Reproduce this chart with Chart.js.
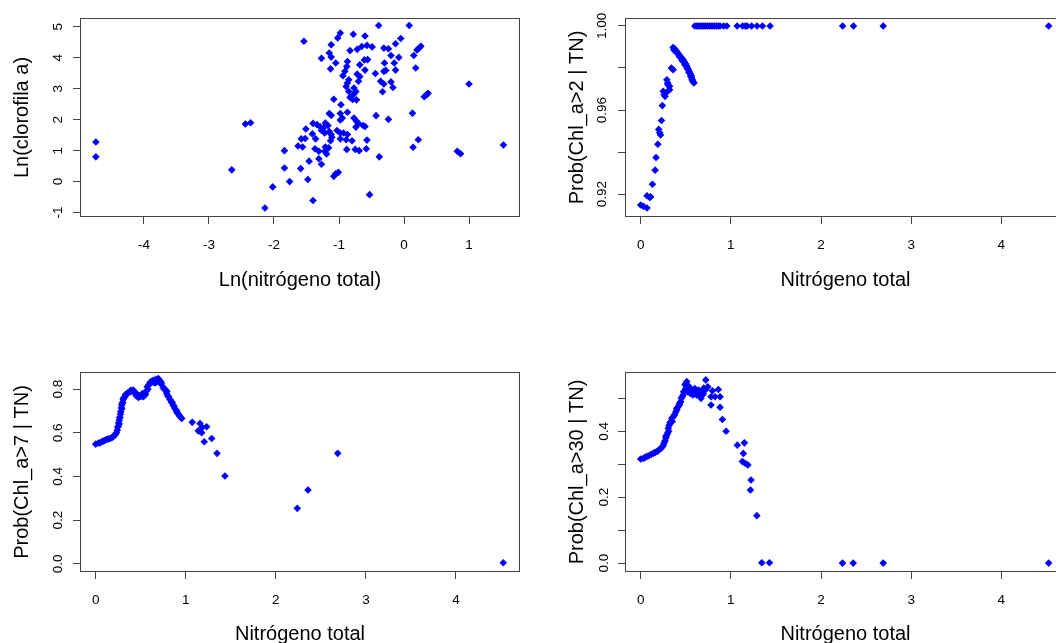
<!DOCTYPE html>
<html>
<head>
<meta charset="utf-8">
<title>Clorofila a vs nitrógeno total</title>
<script src="https://cdn.jsdelivr.net/npm/chart.js@4.4.0/dist/chart.umd.min.js"></script>
<style>
  html, body { margin: 0; padding: 0; background: #fff; overflow: hidden; width: 1056px; height: 643px; position: relative; }
  canvas { position: absolute; }
</style>
</head>
<body>
<canvas id="p1" width="530" height="300" style="left:0px;top:0px"></canvas>
<canvas id="p2" width="540" height="300" style="left:540px;top:0px"></canvas>
<canvas id="p3" width="530" height="320" style="left:0px;top:340px"></canvas>
<canvas id="p4" width="540" height="320" style="left:540px;top:340px"></canvas>
<script>
// panel 1: Ln(nitrógeno total) vs Ln(clorofila a)
var p1X = [-4.74,-4.74,-2.65,-2.44,-2.36,-2.14,-2.02,-1.84,-1.84,-1.76,-1.63,-1.59,-1.58,-1.56,-1.54,-1.52,-1.51,-1.48,-1.46,-1.41,
  -1.40,-1.40,-1.37,-1.36,-1.34,-1.31,-1.31,-1.29,-1.27,-1.27,-1.27,-1.24,-1.22,-1.21,-1.21,-1.22,-1.19,-1.17,-1.16,-1.15,
  -1.15,-1.15,-1.13,-1.13,-1.12,-1.12,-1.12,-1.12,-1.11,-1.08,-1.08,-1.05,-1.05,-1.03,-1.02,-1.01,-0.98,-0.98,-0.98,-0.98,
  -0.98,-0.97,-0.95,-0.94,-0.93,-0.91,-0.89,-0.89,-0.88,-0.88,-0.87,-0.87,-0.87,-0.87,-0.85,-0.85,-0.83,-0.83,-0.80,-0.79,
  -0.78,-0.77,-0.77,-0.77,-0.75,-0.74,-0.74,-0.73,-0.73,-0.72,-0.72,-0.70,-0.70,-0.69,-0.68,-0.68,-0.65,-0.63,-0.61,-0.60,
  -0.60,-0.60,-0.58,-0.57,-0.57,-0.56,-0.53,-0.49,-0.44,-0.43,-0.39,-0.38,-0.36,-0.33,-0.31,-0.31,-0.31,-0.30,-0.28,-0.24,
  -0.24,-0.20,-0.20,-0.17,-0.15,-0.13,-0.13,-0.08,-0.05,0.08,0.13,0.14,0.15,0.18,0.20,0.22,0.23,0.26,0.31,0.35,
  0.37,0.82,0.87,1.00,1.53];
var p1Y = [1.28,0.80,0.38,1.86,1.90,-0.85,-0.17,1.00,0.44,0.00,1.15,0.42,1.38,1.12,4.53,1.39,1.70,0.07,0.66,1.54,
  1.88,-0.61,1.06,1.38,1.84,0.98,0.74,1.77,1.65,3.98,0.56,1.73,1.57,1.89,1.12,0.98,0.89,1.81,1.09,1.62,
  2.20,4.15,1.32,3.64,1.52,2.14,4.02,4.42,1.43,2.66,0.17,0.25,3.83,1.65,4.64,0.30,4.80,1.57,1.38,2.20,
  1.99,2.48,2.05,3.42,1.57,3.56,1.35,3.07,3.72,1.04,3.88,3.18,2.24,1.52,3.29,2.91,2.72,4.23,1.32,2.65,
  4.76,3.02,2.83,2.05,1.04,2.91,1.76,2.64,1.95,4.27,3.47,3.24,1.88,1.00,3.77,3.39,4.36,1.81,3.93,4.70,
  3.60,1.78,1.06,4.40,1.34,3.94,-0.42,4.35,3.49,2.13,5.04,0.80,3.24,2.90,4.31,3.15,3.56,3.83,3.59,4.29,
  2.01,4.07,3.22,3.04,3.83,3.60,4.45,4.01,4.62,5.04,2.21,1.11,4.07,3.67,4.25,1.35,4.31,4.37,2.74,2.81,
  2.85,0.98,0.90,3.15,1.18];

// panel 2: Prob(Chl_a>2 | TN)
var p2X = [0.00,0.03,0.07,0.07,0.10,0.11,0.13,0.16,0.17,0.19,0.20,0.21,0.22,0.23,0.24,0.25,0.26,0.27,0.29,0.30,
  0.30,0.30,0.32,0.32,0.34,0.36,
  0.36,0.375,0.385,0.40,0.41,0.425,0.44,0.455,0.47,0.485,0.50,0.51,0.52,0.53,0.54,0.55,0.56,0.565,0.57,0.58,0.59,
  0.37,0.395,0.43,0.46,0.49,0.515,0.535,0.555,0.575,
  0.60,0.62,0.64,0.66,0.68,0.70,0.72,0.74,0.76,0.78,0.80,0.82,0.84,0.86,0.88,0.92,0.955,1.07,1.13,1.16,1.18,
  1.23,1.29,1.35,1.435,2.24,2.36,2.69,4.525];
var p2Y = [0.9148,0.9142,0.9134,0.9192,0.9184,0.9187,0.9247,0.9314,0.9374,0.9437,0.9508,0.9492,0.9481,0.9550,0.9621,0.9689,0.9673,0.9665,0.9744,0.9729,
  0.9721,0.9689,0.9713,0.9697,0.9800,0.9792,
  0.9897,0.9892,0.9886,0.9878,0.9871,0.9863,0.9855,0.9847,0.9839,0.9829,0.9819,0.9810,0.9800,0.9790,0.9781,0.9772,0.9763,0.9753,0.9744,0.9736,0.9729,
  0.9885,0.9874,0.9853,0.9835,0.9815,0.9797,0.9778,0.9760,0.9742,
  1,1,1,1,1,1,1,1,1,1,1,1,1,1,1,1,1,1,1,1,1,
  1,1,1,1,1,1,1,1];

// panel 3: Prob(Chl_a>7 | TN)
var p3X = [0.000,0.048,0.084,0.122,0.159,0.195,0.222,0.240,0.251,0.262,0.278,0.289,0.306,0.325,0.344,0.381,0.417,0.444,0.473,0.503,
  0.528,0.555,0.573,0.603,0.639,0.666,0.695,0.725,0.750,0.788,0.825,0.861,0.899,0.928,0.955,
  0.26,0.27,0.29,0.30,0.35,0.40,0.45,0.48,0.52,0.58,0.62,0.68,0.71,0.77,0.80,0.84,0.88,0.91,
  0.03,0.07,0.10,0.14,0.18,0.21,0.23,0.245,0.255,0.265,0.275,0.285,0.295,0.31,0.33,0.36,0.39,0.42,0.46,0.49,
  0.51,0.54,0.56,0.59,0.615,0.65,0.67,0.70,0.73,0.76,0.79,0.81,0.85,0.87,0.90,0.935,
  1.072,1.158,1.183,1.139,1.177,1.232,1.205,1.288,1.347,1.435,2.238,2.357,2.687,4.525];
var p3Y = [0.548,0.554,0.562,0.570,0.574,0.582,0.594,0.612,0.631,0.658,0.696,0.727,0.753,0.765,0.777,0.788,0.796,0.783,0.762,0.768,
  0.765,0.777,0.811,0.829,0.841,0.829,0.849,0.834,0.808,0.781,0.753,0.727,0.701,0.681,0.666,
  0.640,0.670,0.710,0.740,0.780,0.790,0.770,0.770,0.780,0.800,0.830,0.840,0.830,0.800,0.770,0.740,0.710,0.690,
  0.553,0.560,0.565,0.572,0.578,0.588,0.600,0.625,0.645,0.670,0.685,0.715,0.735,0.760,0.775,0.785,0.795,0.790,0.775,0.765,
  0.775,0.770,0.790,0.820,0.835,0.830,0.845,0.835,0.825,0.800,0.790,0.765,0.740,0.720,0.695,0.675,
  0.648,0.643,0.625,0.609,0.600,0.628,0.559,0.574,0.506,0.402,0.254,0.338,0.506,0.005];

// panel 4: Prob(Chl_a>30 | TN)
var p4X = [0.000,0.048,0.092,0.140,0.184,0.225,0.251,0.270,0.289,0.306,0.325,0.362,0.389,0.417,0.444,0.462,0.484,0.492,0.511,0.536,
  0.566,0.603,0.639,0.669,0.695,0.714,0.722,0.699,0.744,0.780,0.795,0.825,0.861,0.880,0.780,0.880,0.906,0.947,
  0.50,0.52,0.55,0.58,0.62,0.60,0.47,0.43,0.40,0.35,0.31,0.28,
  0.03,0.07,0.115,0.16,0.20,0.24,0.26,0.28,0.30,0.315,0.335,0.345,0.375,0.40,0.43,0.45,0.475,0.50,0.52,0.55,
  0.57,0.59,0.64,0.66,0.68,
  1.072,1.150,1.139,1.128,1.158,1.188,1.224,1.217,1.288,1.343,1.428,2.238,2.357,2.690,4.525];
var p4Y = [0.316,0.321,0.326,0.333,0.339,0.348,0.358,0.371,0.389,0.409,0.426,0.444,0.459,0.475,0.490,0.505,0.520,0.541,0.551,0.535,
  0.525,0.520,0.515,0.500,0.513,0.525,0.556,0.531,0.535,0.505,0.523,0.505,0.527,0.505,0.480,0.473,0.436,0.400,
  0.530,0.520,0.515,0.510,0.510,0.530,0.510,0.480,0.470,0.430,0.400,0.380,
  0.318,0.324,0.330,0.336,0.343,0.353,0.365,0.385,0.395,0.418,0.430,0.440,0.450,0.465,0.485,0.500,0.520,0.545,0.540,0.530,
  0.520,0.515,0.525,0.520,0.510,
  0.358,0.365,0.333,0.308,0.303,0.298,0.252,0.222,0.144,0.001,0.001,0.000,0.000,0.000,0.000];

// ticks
var p1XTicks = [-4, -3, -2, -1, 0, 1];
var p1YTicks = [-1, 0, 1, 2, 3, 4, 5];
var tnTicks = [0, 1, 2, 3, 4];
var p2YTicks = [0.92, 0.94, 0.96, 0.98, 1.00];
var p2YLabels = ['0.92', '', '0.96', '', '1.00'];
var p3YTicks = [0, 0.2, 0.4, 0.6, 0.8];
var p3YLabels = ['0.0', '0.2', '0.4', '0.6', '0.8'];
var p4YTicks = [0, 0.1, 0.2, 0.3, 0.4, 0.5];
var p4YLabels = ['0.0', '', '0.2', '', '0.4', ''];

Chart.defaults.font.family = "'Liberation Sans', Arial, sans-serif";
Chart.defaults.color = '#000';

var frameColor = '#444';

// R style box round the plot region
var boxPlugin = {
  id: 'box',
  beforeDatasetsDraw: function(chart) {
    var a = chart.chartArea, ctx = chart.ctx;
    ctx.save();
    ctx.strokeStyle = frameColor;
    ctx.lineWidth = 1;
    ctx.strokeRect(Math.round(a.left) - 0.5, Math.round(a.top) - 0.5,
      Math.round(a.right - a.left) + 1, Math.round(a.bottom - a.top) + 1);
    ctx.restore();
  }
};

function panel(id, xs, ys, o) {
  var pts = xs.map(function(x, i) { return {x: x, y: ys[i]}; });
  var xLabels = o.xTicks.map(function(v) { return String(v); });
  return new Chart(document.getElementById(id), {
    type: 'scatter',
    data: { datasets: [{
      data: pts,
      pointStyle: 'rectRot',
      pointRadius: 3.8,
      backgroundColor: '#0000ff',
      borderWidth: 0
    }]},
    options: {
      responsive: false,
      animation: false,
      devicePixelRatio: 1,
      layout: { padding: { top: o.padTop, right: o.padRight, left: 0, bottom: 0 } },
      plugins: { legend: { display: false }, tooltip: { enabled: false } },
      scales: {
        x: {
          type: 'linear', min: o.xmin, max: o.xmax,
          afterBuildTicks: function(s) { s.ticks = o.xTicks.map(function(v) { return {value: v}; }); },
          afterFit: function(s) { s.height = o.axisH; },
          grid: { drawOnChartArea: false, drawTicks: true, tickLength: 8, color: frameColor },
          border: { display: false },
          ticks: { autoSkip: false, maxRotation: 0, padding: 13, font: { size: 13.5 },
            callback: function(v, i) { return xLabels[i]; } },
          title: { display: true, text: o.xTitle, font: { size: 20 }, padding: { top: 0, bottom: o.xTitlePad } }
        },
        y: {
          type: 'linear', min: o.ymin, max: o.ymax,
          afterBuildTicks: function(s) { s.ticks = o.yTicks.map(function(v) { return {value: v}; }); },
          afterFit: function(s) { s.width = o.axisW; },
          grid: { drawOnChartArea: false, drawTicks: true, tickLength: 8, color: frameColor },
          border: { display: false },
          ticks: { autoSkip: false, minRotation: 90, maxRotation: 90, crossAlign: 'center',
            padding: o.yTickPad, font: { size: 13.5 },
            callback: function(v, i) { return o.yLabels[i]; } },
          title: { display: true, text: o.yTitle, font: { size: 20 }, padding: { top: o.yTitlePad, bottom: 0 } }
        }
      }
    },
    plugins: [boxPlugin]
  });
}

panel('p1', p1X, p1Y, {
  xTitle: 'Ln(nitrógeno total)', yTitle: 'Ln(clorofila a)',
  xmin: -4.969, xmax: 1.769, ymin: -1.11, ymax: 5.25,
  xTicks: p1XTicks, yTicks: p1YTicks, yLabels: p1YTicks.map(String),
  axisW: 81, axisH: 84, padTop: 19, padRight: 11, yTickPad: 9, yTitlePad: 10.5, xTitlePad: 8
});
panel('p2', p2X, p2Y, {
  xTitle: 'Nitrógeno total', yTitle: 'Prob(Chl_a>2 | TN)',
  xmin: -0.163, xmax: 4.706, ymin: 0.9096, ymax: 1.0033,
  xTicks: tnTicks, yTicks: p2YTicks, yLabels: p2YLabels,
  axisW: 86, axisH: 84, padTop: 19, padRight: 15, yTickPad: 2.5, yTitlePad: 25, xTitlePad: 8
});
panel('p3', p3X, p3Y, {
  xTitle: 'Nitrógeno total', yTitle: 'Prob(Chl_a>7 | TN)',
  xmin: -0.163, xmax: 4.70, ymin: -0.033, ymax: 0.874,
  xTicks: tnTicks, yTicks: p3YTicks, yLabels: p3YLabels,
  axisW: 81, axisH: 89, padTop: 33, padRight: 11, yTickPad: 5.5, yTitlePad: 10.5, xTitlePad: 13.5
});
panel('p4', p4X, p4Y, {
  xTitle: 'Nitrógeno total', yTitle: 'Prob(Chl_a>30 | TN)',
  xmin: -0.163, xmax: 4.706, ymin: -0.024, ymax: 0.577,
  xTicks: tnTicks, yTicks: p4YTicks, yLabels: p4YLabels,
  axisW: 86, axisH: 89, padTop: 33, padRight: 15, yTickPad: 4.5, yTitlePad: 25, xTitlePad: 13.5
});
</script>
</body>
</html>
